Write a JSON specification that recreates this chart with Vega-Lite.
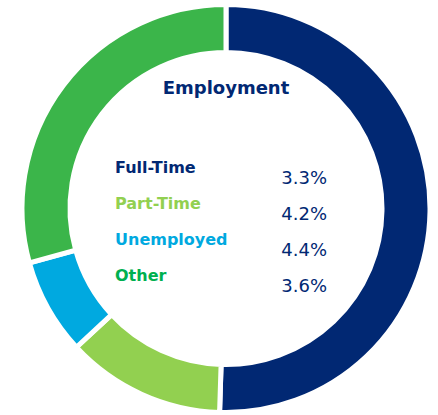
{
  "$schema": "https://vega.github.io/schema/vega-lite/v6.json",
  "width": 438,
  "height": 415,
  "autosize": {"type": "fit", "contains": "padding"},
  "padding": {"left": 14, "right": 0, "top": 2, "bottom": 0},
  "background": "white",
  "config": {"view": {"stroke": null}},
  "data": {
    "values": [
      {"category": "Full-Time", "rank": 1, "share": 50.5, "rate": "3.3%"},
      {"category": "Part-Time", "rank": 2, "share": 12.6, "rate": "4.2%"},
      {"category": "Unemployed", "rank": 3, "share": 7.6, "rate": "4.4%"},
      {"category": "Other", "rank": 4, "share": 29.3, "rate": "3.6%"}
    ]
  },
  "layer": [
    {
      "mark": {"type": "arc", "outerRadius": 204, "innerRadius": 156, "stroke": "white", "strokeWidth": 5},
      "encoding": {
        "theta": {"field": "share", "type": "quantitative", "stack": true},
        "order": {"field": "rank", "type": "quantitative", "sort": "ascending"},
        "color": {
          "field": "category", "type": "nominal", "legend": null,
          "scale": {"domain": ["Full-Time", "Part-Time", "Unemployed", "Other"], "range": ["#012873", "#92D050", "#00A9E0", "#3BB54A"]}
        }
      }
    },
    {
      "data": {"values": [{"title": "Employment"}]},
      "mark": {"type": "text", "font": "DejaVu Sans", "fontWeight": "bold", "fontSize": 18, "align": "center", "baseline": "middle", "color": "#012873"},
      "encoding": {
        "text": {"field": "title"},
        "x": {"datum": "Employment", "type": "nominal", "scale": {"type": "point", "domain": ["Employment"], "range": [212, 212]}, "axis": null},
        "y": {"datum": "Employment", "type": "nominal", "scale": {"type": "point", "domain": ["Employment"], "range": [80, 80]}, "axis": null}
      }
    },
    {
      "mark": {"type": "text", "font": "DejaVu Sans", "fontWeight": "bold", "fontSize": 16, "align": "left", "baseline": "middle"},
      "encoding": {
        "text": {"field": "category"},
        "x": {"datum": "label", "type": "nominal", "scale": {"type": "point", "domain": ["label"], "range": [101, 101]}, "axis": null},
        "y": {"field": "category", "type": "nominal", "scale": {"type": "point", "domain": ["Full-Time", "Part-Time", "Unemployed", "Other"], "range": [159, 267], "padding": 0}, "axis": null},
        "color": {
          "field": "category", "type": "nominal", "legend": null,
          "scale": {"domain": ["Full-Time", "Part-Time", "Unemployed", "Other"], "range": ["#012873", "#92D050", "#00A9E0", "#00B050"]}
        }
      }
    },
    {
      "mark": {"type": "text", "font": "DejaVu Sans", "fontSize": 18, "align": "right", "baseline": "middle", "color": "#012873"},
      "encoding": {
        "text": {"field": "rate"},
        "x": {"datum": "value", "type": "nominal", "scale": {"type": "point", "domain": ["value"], "range": [313, 313]}, "axis": null},
        "y": {"field": "category", "type": "nominal", "scale": {"type": "point", "domain": ["Full-Time", "Part-Time", "Unemployed", "Other"], "range": [170, 278], "padding": 0}, "axis": null}
      }
    }
  ],
  "resolve": {"scale": {"x": "independent", "y": "independent", "color": "independent"}}
}
